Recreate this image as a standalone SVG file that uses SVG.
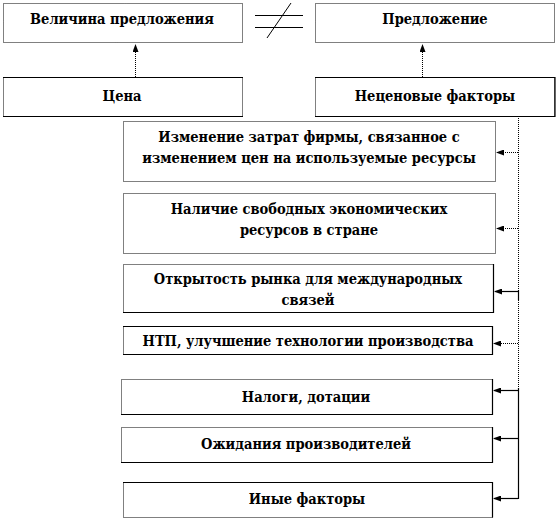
<svg xmlns="http://www.w3.org/2000/svg" width="558" height="520" viewBox="0 0 558 520">
<style>
.dt{fill:none;stroke:#000;stroke-width:1;stroke-dasharray:1 1}
.sd{fill:none;stroke:#000;stroke-width:1.2}
text{font-family:'DejaVu Serif Condensed','DejaVu Serif',serif;font-stretch:condensed;font-weight:bold;font-size:14.5px;fill:#000;text-anchor:middle}
</style>
<defs>
<marker id="ah" markerWidth="8" markerHeight="6" refX="7" refY="3" orient="auto" markerUnits="userSpaceOnUse">
<path d="M0,0 L8,3 L0,6 z" fill="#000"/>
</marker>
</defs>
<rect width="558" height="520" fill="#fff"/>
<g id="connectors">
<line class="dt" x1="135.5" y1="77" x2="135.5" y2="45" marker-end="url(#ah)"/>
<line class="dt" x1="422.5" y1="77" x2="422.5" y2="45" marker-end="url(#ah)"/>
<path class="dt" d="M518.5,116 V290"/>
<path class="sd" d="M518.5,290 V300"/>
<path class="dt" d="M518.5,300 V388"/>
<path class="sd" d="M518.5,388 V499"/>
<line class="dt" x1="518" y1="152.5" x2="497" y2="152.5" marker-end="url(#ah)"/>
<line class="dt" x1="518" y1="228.5" x2="497" y2="228.5" marker-end="url(#ah)"/>
<line class="sd" x1="518" y1="291.5" x2="495" y2="291.5" marker-end="url(#ah)"/>
<line class="dt" x1="518" y1="343.5" x2="494" y2="343.5" marker-end="url(#ah)"/>
<line class="sd" x1="518" y1="390.5" x2="494" y2="390.5" marker-end="url(#ah)"/>
<line class="sd" x1="518" y1="438.5" x2="494" y2="438.5" marker-end="url(#ah)"/>
<line class="sd" x1="518" y1="498.5" x2="494" y2="498.5" marker-end="url(#ah)"/>
<g id="not-equal">
<line class="sd" x1="255" y1="15.5" x2="303" y2="15.5"/>
<line class="sd" x1="255" y1="27.5" x2="303" y2="27.5"/>
<line x1="267" y1="38" x2="291" y2="3" stroke="#000" stroke-width="1"/>
</g>
</g>
<g id="n1">
<rect class="dt" x="3.5" y="3.5" width="239" height="39"/>
<text x="122" y="24">Величина предложения</text>
</g>
<g id="n2">
<rect class="dt" x="315.5" y="3.5" width="239" height="39"/>
<text x="435" y="24">Предложение</text>
</g>
<g id="n3">
<rect class="dt" x="3.5" y="77.5" width="239" height="39"/>
<path class="sd" d="M3,77.5 H243 M3,116.5 H243"/>
<text x="122" y="101">Цена</text>
</g>
<g id="n4">
<rect class="dt" x="315.5" y="77.5" width="239" height="39"/>
<path class="sd" d="M315,77.5 H555 V116.5 H315"/>
<text x="435" y="101">Неценовые факторы</text>
</g>
<g id="n5">
<rect class="dt" x="123.5" y="121.5" width="372" height="60"/>
<text x="309" y="142">Изменение затрат фирмы, связанное с</text>
<text x="309" y="163">изменением цен на используемые ресурсы</text>
</g>
<g id="n6">
<rect class="dt" x="123.5" y="193.5" width="372" height="60"/>
<text x="309" y="214">Наличие свободных экономических</text>
<text x="309" y="235">ресурсов в стране</text>
</g>
<g id="n7">
<rect class="dt" x="123.5" y="264.5" width="370" height="48"/>
<path class="sd" d="M493.5,264 V312.5 H123"/>
<text x="308" y="284">Открытость рынка для международных</text>
<text x="308" y="305">связей</text>
</g>
<g id="n8">
<rect class="dt" x="123.5" y="326.5" width="369" height="28"/>
<path class="sd" d="M123,326.5 H492.5 V354.5 H123"/>
<text x="308" y="346">НТП, улучшение технологии производства</text>
</g>
<g id="n9">
<rect class="dt" x="121.5" y="379.5" width="371" height="35"/>
<path class="sd" d="M492.5,379 V414.5 H121"/>
<text x="306" y="402">Налоги, дотации</text>
</g>
<g id="n10">
<rect class="dt" x="121.5" y="427.5" width="371" height="35"/>
<path class="sd" d="M492.5,427 V462.5 H121"/>
<text x="306" y="449">Ожидания производителей</text>
</g>
<g id="n11">
<rect class="dt" x="123.5" y="482.5" width="369" height="35"/>
<path class="sd" d="M123,482.5 H492.5 V517.5"/>
<text x="307" y="504">Иные факторы</text>
</g>
</svg>
